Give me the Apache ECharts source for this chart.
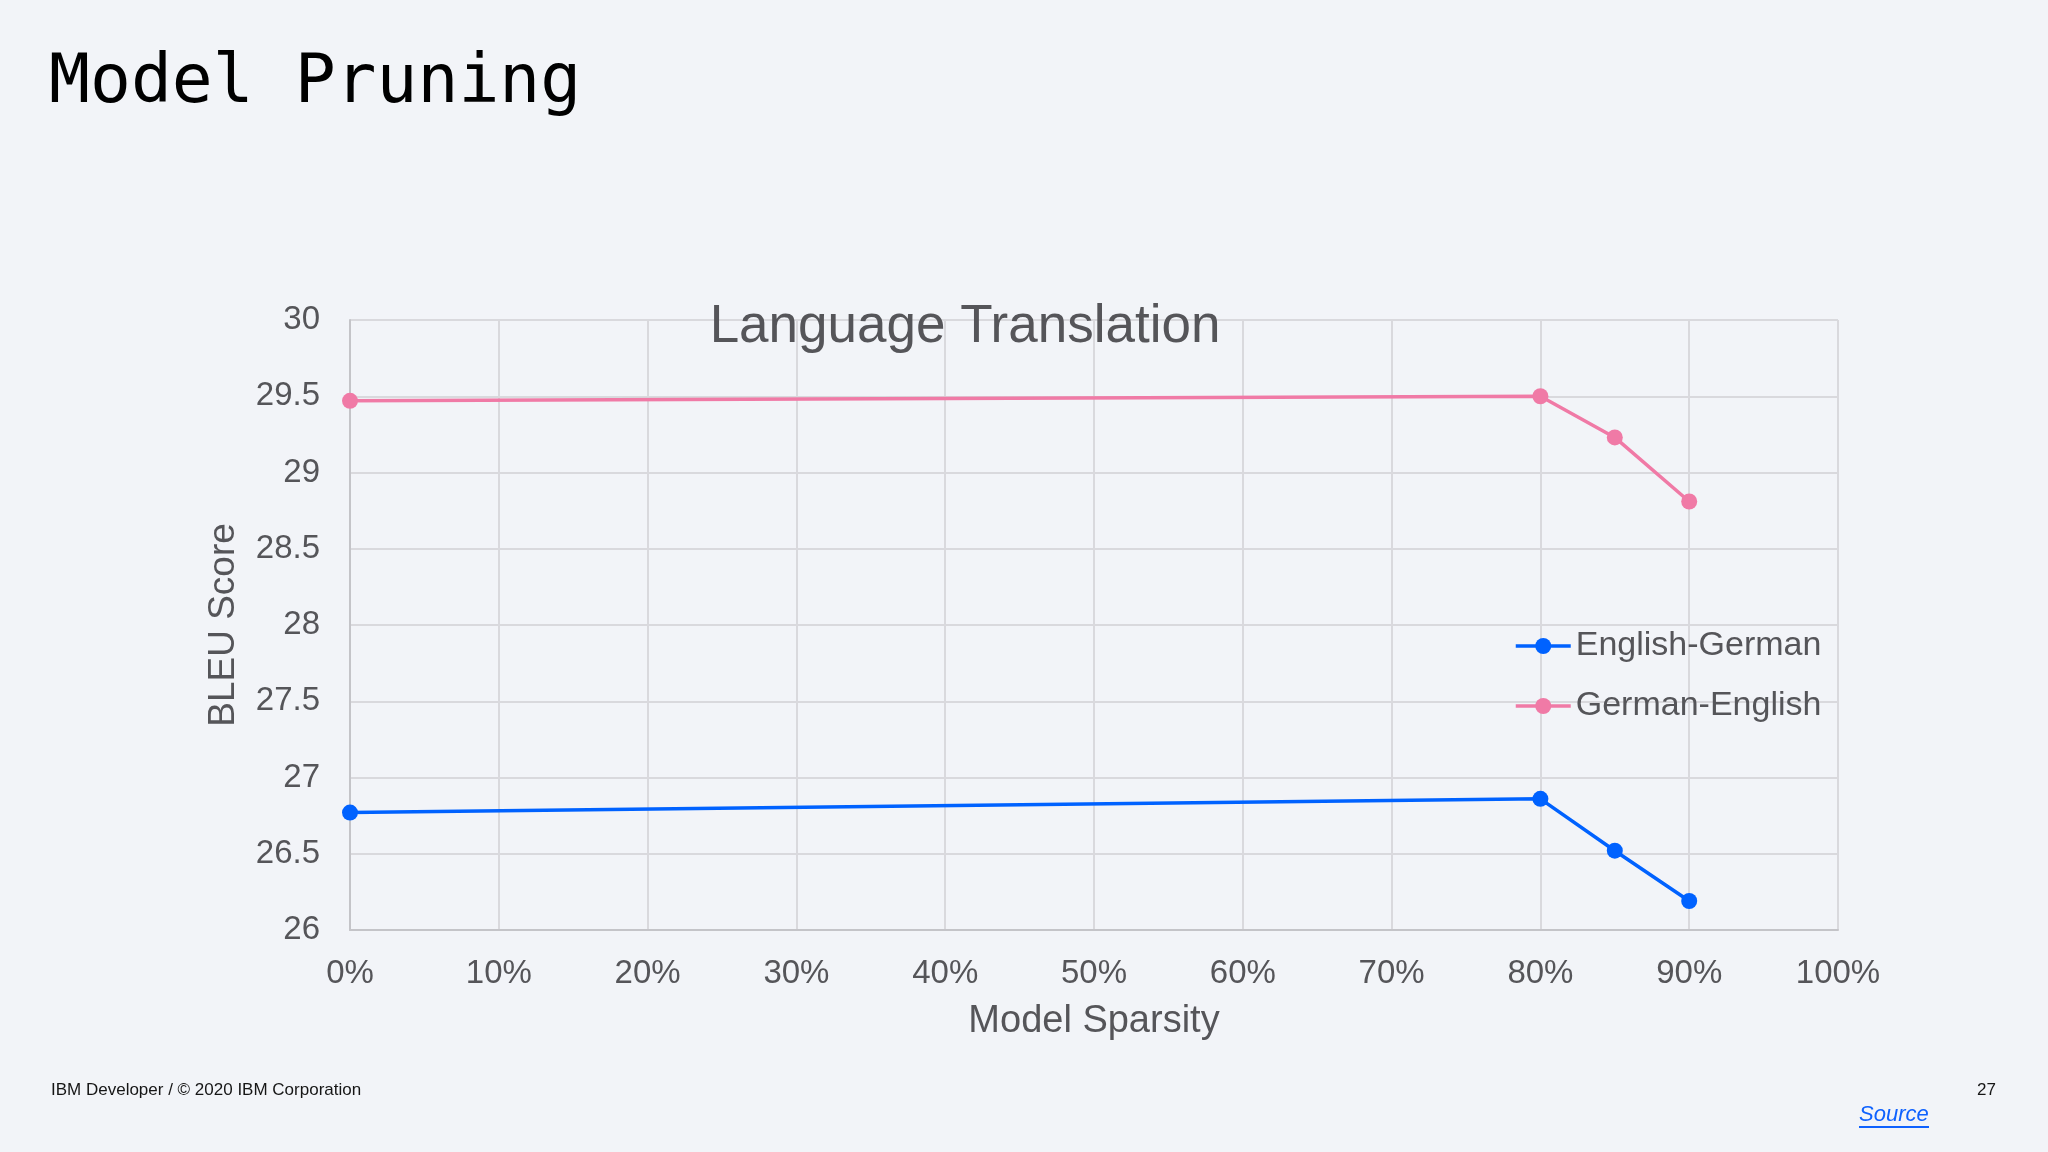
<!DOCTYPE html>
<html>
<head>
<meta charset="utf-8">
<script src="https://cdn.jsdelivr.net/npm/echarts@6/dist/echarts.min.js"></script>
<style>
html,body{margin:0;padding:0;background:#f2f4f8;}
#chart{width:2048px;height:1152px;}
</style>
</head>
<body>
<div id="chart"></div>
<script>
const sparsity = [0, 80, 85, 90];
const englishGerman = [26.77, 26.86, 26.52, 26.19];
const germanEnglish = [29.47, 29.50, 29.23, 28.81];
const seriesNames = ['English-German', 'German-English'];
const seriesColors = ['#0062ff', '#f07aa6'];

const chart = echarts.init(document.getElementById('chart'));
const pairs = (ys) => sparsity.map((x, i) => [x, ys[i]]);
const textColor = '#555559';

chart.setOption({
  animation: false,
  backgroundColor: '#f2f4f8',
  title: [{
    text: 'Model Pruning',
    left: 44, top: 45,
    textStyle: { fontFamily: 'DejaVu Sans Mono', fontSize: 68, fontWeight: 'normal', color: '#000000' }
  }, {
    text: 'Language Translation',
    left: 960, top: 296, textAlign: 'center',
    textStyle: { fontFamily: 'Liberation Sans, Arial', fontSize: 53, fontWeight: 'normal', color: textColor }
  }],
  grid: { left: 350, right: 210, top: 320, bottom: 222, containLabel: false },
  legend: {
    orient: 'vertical', left: 1509, top: 624,
    itemWidth: 55, itemHeight: 20, itemGap: 26,
    lineStyle: { width: 3.5 },
    textStyle: { fontFamily: 'Liberation Sans, Arial', fontSize: 34, color: textColor },
    data: seriesNames
  },
  xAxis: {
    type: 'value', min: 0, max: 100, interval: 10,
    name: 'Model Sparsity', nameLocation: 'middle', nameGap: 73,
    nameTextStyle: { fontFamily: 'Liberation Sans, Arial', fontSize: 38, color: textColor },
    axisLine: { show: true, lineStyle: { color: '#c4c4c8', width: 2 } },
    axisTick: { show: false },
    axisLabel: { formatter: '{value}%', margin: 27, fontFamily: 'Liberation Sans, Arial', fontSize: 33, color: textColor },
    splitLine: { show: true, lineStyle: { color: '#d9d9dd', width: 2 } }
  },
  yAxis: {
    type: 'value', min: 26, max: 30, interval: 0.5,
    name: 'BLEU Score', nameLocation: 'middle', nameGap: 108, nameRotate: 90,
    nameTextStyle: { fontFamily: 'Liberation Sans, Arial', fontSize: 37, color: textColor },
    axisLine: { show: true, lineStyle: { color: '#c4c4c8', width: 2 } },
    axisTick: { show: false },
    axisLabel: { margin: 30, fontFamily: 'Liberation Sans, Arial', fontSize: 33, color: textColor },
    splitLine: { show: true, lineStyle: { color: '#d9d9dd', width: 2 } }
  },
  series: [{
    name: seriesNames[0], type: 'line', data: pairs(englishGerman),
    symbol: 'circle', symbolSize: 16, color: seriesColors[0],
    lineStyle: { width: 3.5, color: seriesColors[0] }, itemStyle: { color: seriesColors[0] }
  }, {
    name: seriesNames[1], type: 'line', data: pairs(germanEnglish),
    symbol: 'circle', symbolSize: 16, color: seriesColors[1],
    lineStyle: { width: 3.5, color: seriesColors[1] }, itemStyle: { color: seriesColors[1] }
  }],
  graphic: [{
    type: 'text', left: 51, top: 1082,
    style: { text: 'IBM Developer / © 2020 IBM Corporation', fontFamily: 'Liberation Sans, Arial', fontSize: 17, fill: '#161616' }
  }, {
    type: 'text', right: 52, top: 1082,
    style: { text: '27', fontFamily: 'Liberation Sans, Arial', fontSize: 17, fill: '#161616' }
  }, {
    type: 'text', left: 1859, top: 1104,
    style: { text: 'Source', fontFamily: 'Liberation Sans, Arial', fontSize: 22, fontStyle: 'italic', fill: '#0f62fe' }
  }, {
    type: 'line', shape: { x1: 1859, y1: 1127, x2: 1929, y2: 1127 },
    style: { stroke: '#0f62fe', lineWidth: 2 }
  }]
});
</script>
</body>
</html>
